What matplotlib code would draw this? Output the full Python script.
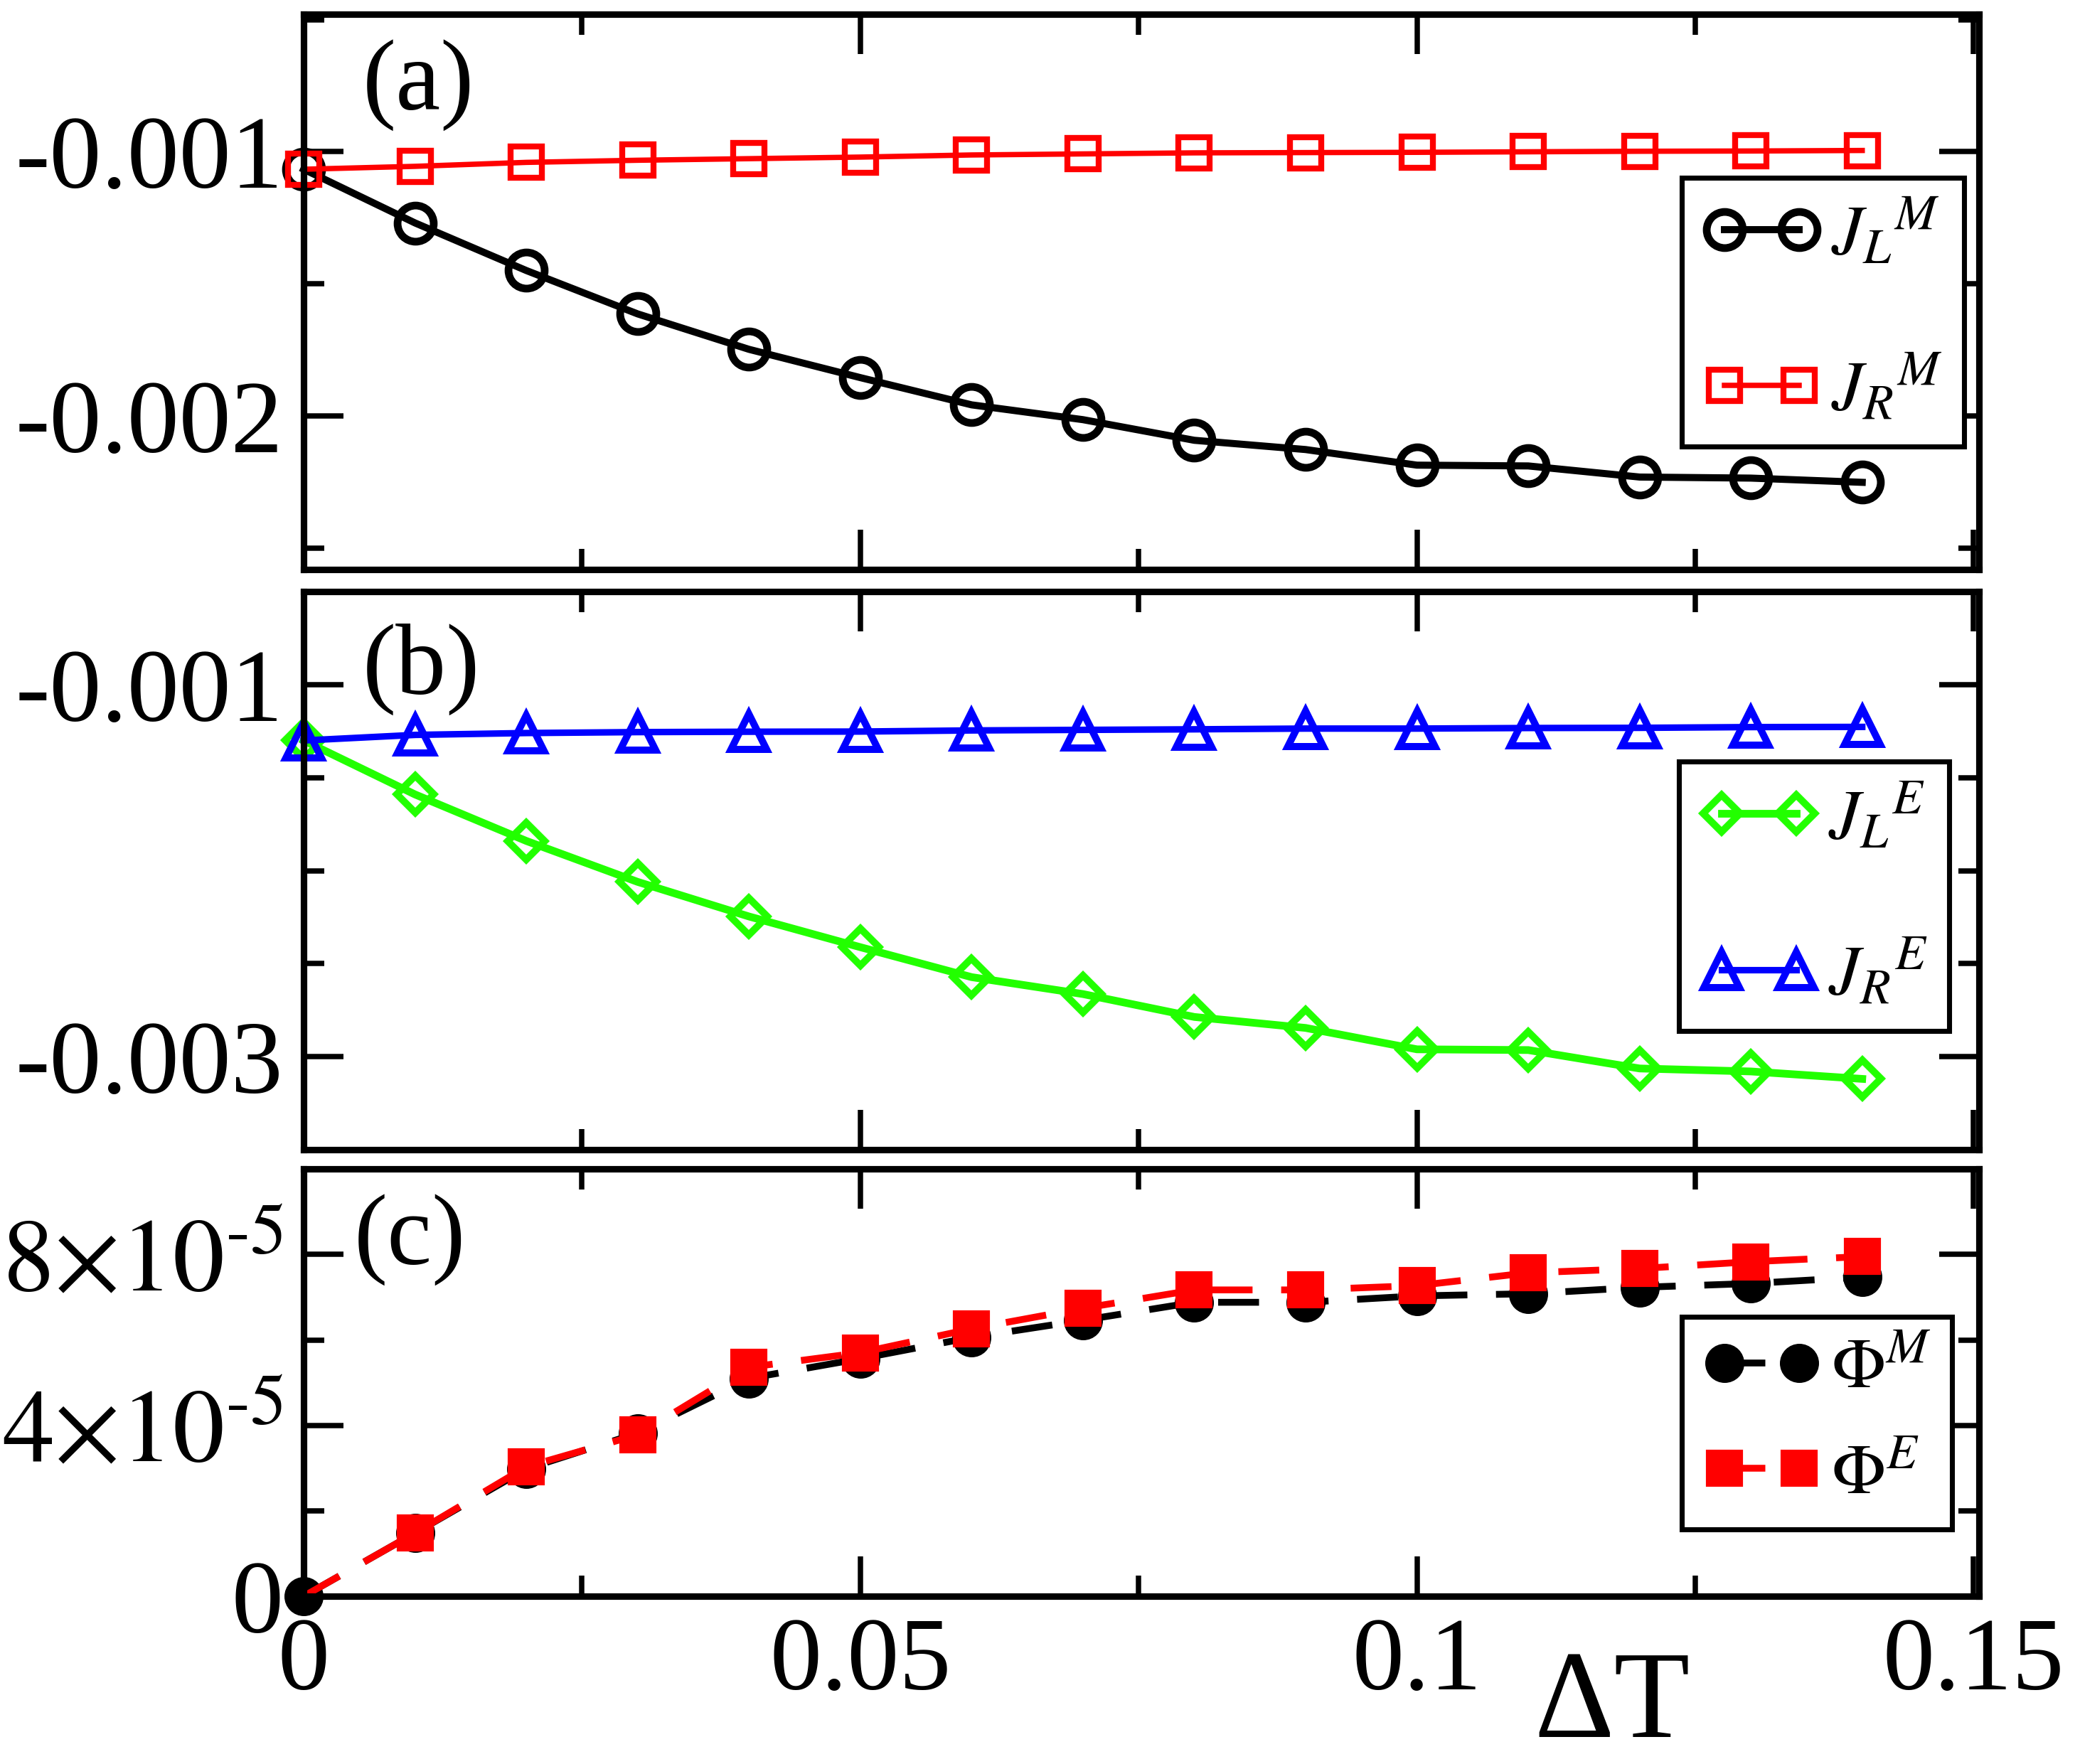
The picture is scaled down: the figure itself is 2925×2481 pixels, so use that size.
import matplotlib
matplotlib.use("Agg")
import matplotlib.pyplot as plt
from matplotlib.ticker import MultipleLocator

plt.rcParams['font.family'] = ['Liberation Serif', 'DejaVu Serif']
plt.rcParams['mathtext.fontset'] = 'stix'
plt.rcParams['axes.unicode_minus'] = False

# data
dT = [0.0, 0.01, 0.02, 0.03, 0.04, 0.05, 0.06, 0.07, 0.08, 0.09, 0.10, 0.11, 0.12, 0.13, 0.14]

JLM = [-0.001066, -0.001269, -0.001449, -0.001613, -0.001747, -0.001854, -0.001957, -0.002013,
       -0.002091, -0.002126, -0.002185, -0.002188, -0.002230, -0.002234, -0.002250]
JRM = [-0.001066, -0.001055, -0.001040, -0.001032, -0.001026, -0.001020, -0.001012, -0.001008,
       -0.001004, -0.001003, -0.001002, -0.001000, -0.000998, -0.000997, -0.000995]

JLE = [-0.001300, -0.001590, -0.001840, -0.002060, -0.002246, -0.002411, -0.002572, -0.002663,
       -0.002786, -0.002845, -0.002960, -0.002964, -0.003063, -0.003079, -0.003119]
JRE = [-0.001300, -0.001270, -0.001260, -0.001255, -0.001253, -0.001252, -0.001246, -0.001243,
       -0.001240, -0.001236, -0.001236, -0.001233, -0.001232, -0.001228, -0.001227]

PhiM = [0.0, 1.48e-5, 2.98e-5, 3.82e-5, 5.10e-5, 5.56e-5, 6.06e-5, 6.46e-5,
        6.88e-5, 6.88e-5, 7.03e-5, 7.08e-5, 7.23e-5, 7.32e-5, 7.47e-5]
PhiE = [0.0, 1.48e-5, 3.03e-5, 3.78e-5, 5.36e-5, 5.70e-5, 6.26e-5, 6.74e-5,
        7.17e-5, 7.17e-5, 7.27e-5, 7.57e-5, 7.67e-5, 7.83e-5, 7.95e-5]

xticks = [0, 0.05, 0.1, 0.15]
xticklabels = ['0', '0.05', '0.1', '0.15']
yticks_a = [-0.002, -0.001]
ylabels_a = ['-0.002', '-0.001']
yticks_b = [-0.003, -0.001]
ylabels_b = ['-0.003', '-0.001']
yticks_c = [0, 4e-5, 8e-5]
ylabels_c = ['0', r'$4{\times}10^{\text{-}5}$', r'$8{\times}10^{\text{-}5}$']

fig = plt.figure(figsize=(9.75, 8.27), dpi=300)
left, width = 0.146, 0.8055
axa = fig.add_axes([left, 0.6771, width, 0.3148])
axb = fig.add_axes([left, 0.3482, width, 0.3164])
axc = fig.add_axes([left, 0.0951, width, 0.2422])

tick_fs = 35
for ax in (axa, axb, axc):
    ax.set_xlim(0, 0.1505)
    ax.xaxis.set_minor_locator(MultipleLocator(0.025))
    ax.set_xticks(xticks)
    ax.tick_params(which='both', direction='in', top=True, right=True, width=1.8,
                   labelsize=tick_fs, pad=7)
    ax.tick_params(which='major', length=13.5)
    ax.tick_params(which='minor', length=7)
    for s in ax.spines.values():
        s.set_linewidth(2.2)

axa.set_xticklabels([])
axb.set_xticklabels([])
axc.set_xticklabels(xticklabels)

# panel (a)
axa.plot(dT, JLM, '-', color='black', lw=2.4, marker='o', ms=12.2, mfc='none', mew=2.6,
         clip_on=False, label=r'$J_L{}^M$')
axa.plot(dT, JRM, '-', color='#ff0000', lw=1.8, marker='s', ms=10.6, mfc='none', mew=2.0,
         clip_on=False, label=r'$J_R{}^M$')
axa.set_ylim(-0.00258, -0.00048)
axa.set_yticks(yticks_a)
axa.set_yticklabels(ylabels_a)
axa.yaxis.set_minor_locator(MultipleLocator(0.0005))
axa.text(0.035, 0.955, '(a)', transform=axa.transAxes, fontsize=34, va='top', ha='left')

# panel (b)
axb.plot(dT, JLE, '-', color='#22ff00', lw=2.6, marker='D', ms=8.8, mfc='none', mew=2.4,
         clip_on=False, label=r'$J_L{}^E$')
axb.plot(dT, JRE, '-', color='#0000ff', lw=2.2, marker='^', ms=12.2, mfc='none', mew=2.4,
         clip_on=False, label=r'$J_R{}^E$')
axb.set_ylim(-0.0035, -0.0005)
axb.set_yticks(yticks_b)
axb.set_yticklabels(ylabels_b)
axb.yaxis.set_minor_locator(MultipleLocator(0.0005))
axb.text(0.035, 0.943, '(b)', transform=axb.transAxes, fontsize=34, va='top', ha='left')

# panel (c)
axc.plot(dT, PhiM, color='black', lw=2.3, dashes=(6, 4.2), marker='o', ms=12.2,
         mec='black', mfc='black', clip_on=False, label=r'$\Phi^M$')
axc.plot(dT, PhiE, color='#ff0000', lw=2.3, dashes=(6, 4.2), marker='s', ms=11.3,
         mec='#ff0000', mfc='#ff0000', markevery=list(range(1, len(dT))), clip_on=False,
         label=r'$\Phi^E$')
axc.set_ylim(0, 1e-4)
axc.set_yticks(yticks_c)
axc.set_yticklabels(ylabels_c)
axc.yaxis.set_minor_locator(MultipleLocator(2e-5))
axc.text(0.03, 0.942, '(c)', transform=axc.transAxes, fontsize=34, va='top', ha='left')

leg_kw = dict(loc='upper right', fontsize=24, frameon=True, fancybox=False, framealpha=1,
              edgecolor='black', numpoints=2, handlelength=1.65, handletextpad=0.15,
              borderaxespad=0, borderpad=0.3)
for ax, anchor, spacing in ((axa, (0.991, 0.705), 1.2), (axb, (0.982, 0.6955), 1.2),
                            (axc, (0.984, 0.654), 0.57)):
    leg = ax.legend(bbox_to_anchor=anchor, labelspacing=spacing, **leg_kw)
    leg.get_frame().set_linewidth(1.7)

fig.text(0.775, 0.0155, 'ΔT', fontsize=42, ha='center', va='baseline')

fig.savefig('out.png', dpi=300)
